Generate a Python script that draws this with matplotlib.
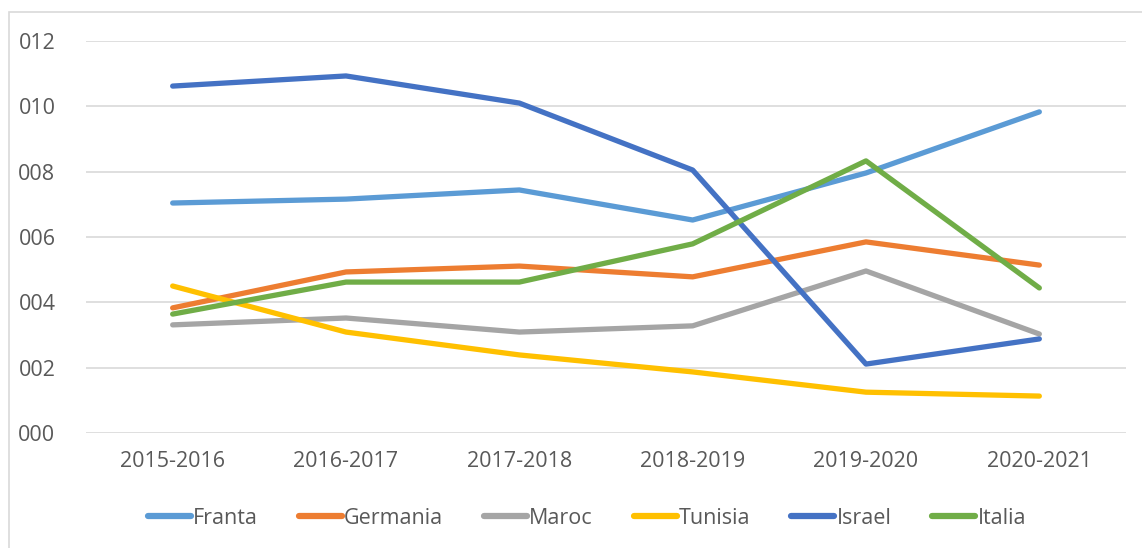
import matplotlib
matplotlib.use("Agg")
import matplotlib.pyplot as plt
from matplotlib.patches import Rectangle

years = ["2015-2016", "2016-2017", "2017-2018", "2018-2019", "2019-2020", "2020-2021"]
franta = [7.04, 7.16, 7.44, 6.52, 7.96, 9.83]
germania = [3.83, 4.93, 5.11, 4.78, 5.85, 5.14]
maroc = [3.31, 3.52, 3.09, 3.28, 4.96, 3.03]
tunisia = [4.50, 3.09, 2.39, 1.87, 1.25, 1.13]
israel = [10.62, 10.93, 10.10, 8.05, 2.11, 2.88]
italia = [3.64, 4.62, 4.62, 5.79, 8.33, 4.44]

series = [("Franta", franta, "#5B9BD5"),
          ("Germania", germania, "#ED7D31"),
          ("Maroc", maroc, "#A5A5A5"),
          ("Tunisia", tunisia, "#FFC000"),
          ("Israel", israel, "#4472C4"),
          ("Italia", italia, "#70AD47")]

plt.rcParams['font.family'] = ['Open Sans', 'DejaVu Sans']
txt = "#595959"

W, H = 1142, 548
fig = plt.figure(figsize=(W / 100, H / 100), dpi=100)
fig.patches.append(Rectangle((9 / W, -0.1), 1.2, 1 - 12 / H + 0.1, transform=fig.transFigure,
                             fill=False, edgecolor="#D9D9D9", linewidth=1.2))
ax = fig.add_axes([86 / W, (H - 433) / H, 1040 / W, 392 / H])

x = range(len(years))
for name, vals, color in series:
    ax.plot(x, vals, color=color, linewidth=3.8, label=name, solid_capstyle='round')

ax.set_xlim(-0.5, len(years) - 0.5)
ax.set_ylim(0, 12)
ax.set_yticks(range(0, 13, 2))
ax.set_yticklabels([f"{v:03d}" for v in range(0, 13, 2)])
ax.set_xticks(list(x))
ax.set_xticklabels(years)
ax.grid(axis='y', color="#D9D9D9", linewidth=1.2)
ax.set_axisbelow(True)
for s in ax.spines.values():
    s.set_visible(False)
ax.tick_params(length=0, labelsize=15.5, colors=txt)
ax.tick_params(axis='y', pad=22)
ax.tick_params(axis='x', pad=13)

leg = fig.legend(loc='center', bbox_to_anchor=(587 / W, 1 - 518 / H), ncol=6, frameon=False,
                 fontsize=15.5, handlelength=2.0, handletextpad=0.1, columnspacing=1.9)
for line in leg.get_lines():
    line.set_linewidth(4.5)
    line.set_solid_capstyle('round')
for t in leg.get_texts():
    t.set_color(txt)

fig.savefig("out.png", dpi=100)
